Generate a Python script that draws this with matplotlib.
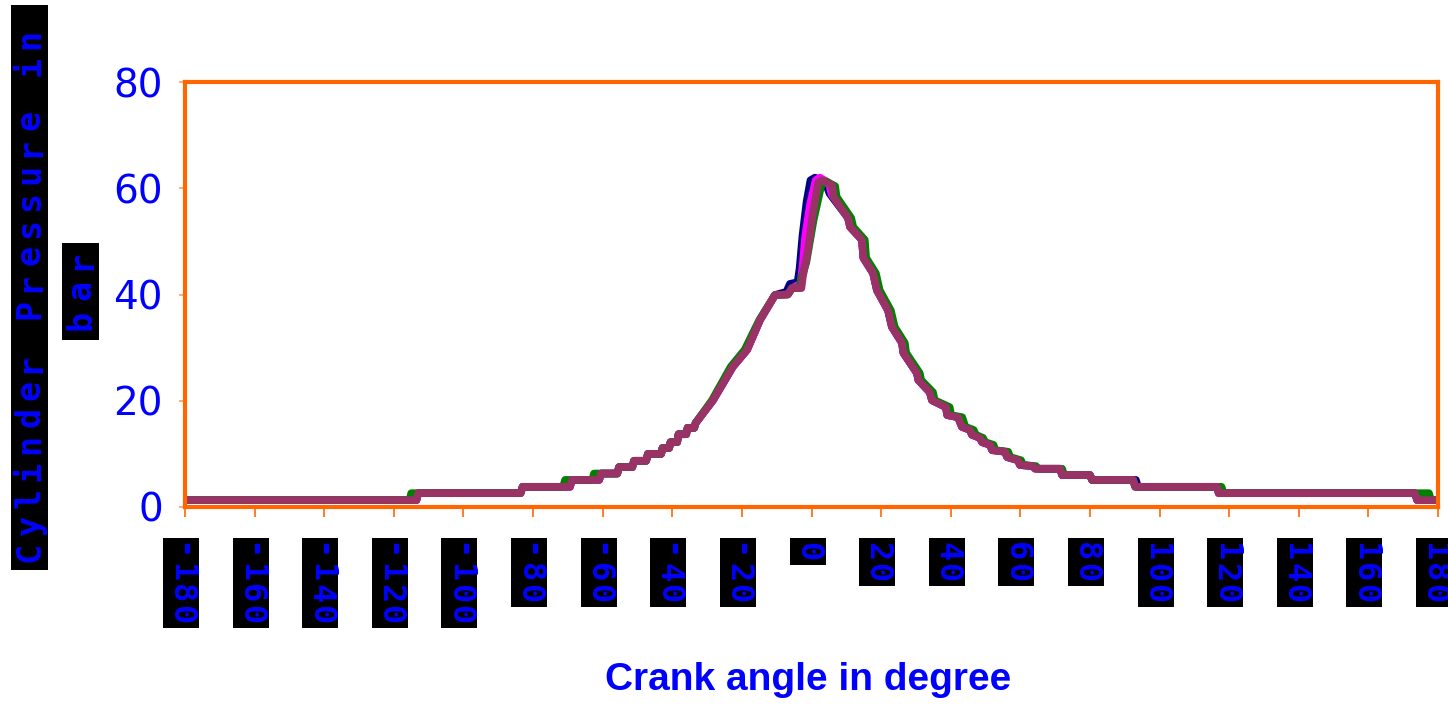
import matplotlib
matplotlib.use("Agg")
import matplotlib.pyplot as plt
from matplotlib.patches import Rectangle

# crank angle (deg) / cylinder pressure (bar)
maroon_deg = [-180, -113.5, -113.0, -83.6, -83.0, -69.4, -68.8, -61.0, -60.5, -55.8,
              -55.3, -51.5, -51.0, -47.5, -47.0, -43.2, -42.8, -40.9, -40.5, -38.6,
              -38.2, -36.0, -35.6, -33.7, -33.3, -28.3, -22.6, -18.5, -14.8, -10.5,
              -6.8, -5.6, -2.9, -2.5, -1.0, 0.4, 1.9, 3.0, 5.9, 6.3,
              10.5, 11.1, 14.5, 14.9, 17.7, 18.8, 22.0, 23.1, 26.0, 26.4,
              30.3, 30.7, 34.0, 34.6, 38.6, 39.0, 42.1, 43.2, 45.5, 46.1,
              48.4, 49.0, 51.3, 51.9, 55.6, 56.2, 59.3, 59.9, 63.6, 64.2,
              71.4, 72.0, 80.0, 80.6, 92.4, 93.0, 116.5, 117.0, 173.4, 174.0, 180]
maroon_bar = [1.3, 1.3, 2.6, 2.6, 3.8, 3.8, 5.1, 5.1, 6.3, 6.3,
              7.5, 7.5, 8.7, 8.7, 10.0, 10.0, 11.1, 11.1, 12.2, 12.2,
              13.7, 13.7, 14.9, 14.9, 15.8, 20.1, 26.4, 29.6, 35.2, 39.9,
              40.0, 41.2, 41.2, 43.3, 48.4, 55.3, 61.0, 61.5, 60.6, 58.4,
              54.4, 52.7, 50.3, 46.9, 44.0, 40.8, 37.0, 33.9, 30.9, 29.0,
              25.2, 23.9, 21.6, 20.1, 18.8, 17.3, 16.9, 15.1, 14.5, 13.6,
              13.0, 12.2, 11.7, 10.7, 10.4, 9.4, 8.8, 7.9, 7.7, 7.2,
              7.2, 6.0, 6.0, 5.1, 5.1, 3.8, 3.8, 2.6, 2.6, 1.3, 1.3]

green_deg = [-180, -115.5, -115.0, -83.6, -83.0, -71.4, -70.8, -63.0, -62.5, -55.8,
             -55.3, -51.5, -51.0, -47.5, -47.0, -43.2, -42.8, -40.9, -40.5, -38.6,
             -38.2, -36.0, -35.6, -33.7, -33.3, -28.6, -23.2, -19.2, -15.0, -10.5,
             -6.8, -5.6, -3.5, -2.8, -1.5, 0.6, 2.8, 4.2, 6.8, 7.2,
             11.4, 12.0, 15.3, 15.7, 18.5, 19.6, 22.8, 23.9, 26.8, 27.2,
             31.1, 31.5, 34.9, 35.4, 39.7, 40.1, 43.3, 44.2, 46.6, 47.2,
             49.3, 49.9, 52.3, 52.8, 56.5, 57.1, 60.2, 60.8, 64.5, 65.1,
             72.0, 72.6, 80.0, 80.6, 92.4, 93.0, 117.8, 118.4, 177.4, 178.0, 180]
green_bar = [1.3, 1.3, 2.6, 2.6, 3.8, 3.8, 5.1, 5.1, 6.3, 6.3,
             7.5, 7.5, 8.7, 8.7, 10.0, 10.0, 11.1, 11.1, 12.2, 12.2,
             13.7, 13.7, 14.9, 14.9, 15.8, 20.1, 26.4, 29.6, 35.2, 39.9,
             40.0, 41.2, 41.2, 43.3, 46.0, 54.0, 60.5, 61.3, 60.4, 58.4,
             54.4, 52.7, 50.3, 46.9, 44.0, 40.8, 37.0, 33.9, 30.9, 29.0,
             25.2, 23.9, 21.6, 20.1, 18.8, 17.3, 16.9, 15.1, 14.5, 13.6,
             13.0, 12.2, 11.7, 10.7, 10.4, 9.4, 8.8, 7.9, 7.7, 7.2,
             7.2, 6.0, 6.0, 5.1, 5.1, 3.8, 3.8, 2.6, 2.6, 1.3, 1.3]

navy_deg = [-180, -113.5, -113.0, -83.6, -83.0, -69.4, -68.8, -61.0, -60.5, -55.8,
            -55.3, -51.5, -51.0, -47.5, -47.0, -43.2, -42.8, -40.9, -40.5, -38.6,
            -38.2, -36.0, -35.6, -33.7, -33.3, -28.3, -22.6, -18.5, -14.8, -10.5,
            -7.2, -6.2, -4.0, -3.4, -2.6, -1.4, -0.3, 1.0, 4.0, 5.2,
            10.5, 11.1, 14.5, 14.9, 17.7, 18.8, 22.0, 23.1, 26.0, 26.4,
            30.3, 30.7, 34.0, 34.6, 38.6, 39.0, 42.1, 43.2, 45.5, 46.1,
            48.4, 49.0, 51.3, 51.9, 55.6, 56.2, 59.3, 59.9, 63.6, 64.8,
            71.4, 72.0, 80.0, 80.6, 93.2, 93.8, 116.5, 117.0, 173.4, 174.0, 180]
navy_bar = [1.3, 1.3, 2.6, 2.6, 3.8, 3.8, 5.1, 5.1, 6.3, 6.3,
            7.5, 7.5, 8.7, 8.7, 10.0, 10.0, 11.1, 11.1, 12.2, 12.2,
            13.7, 13.7, 14.9, 14.9, 15.8, 20.1, 26.4, 29.6, 35.2, 39.9,
            40.5, 42.0, 42.3, 45.0, 51.0, 57.5, 61.5, 62.0, 61.0, 59.0,
            54.4, 52.7, 50.3, 46.9, 44.0, 40.8, 37.0, 33.9, 30.9, 29.0,
            25.2, 23.9, 21.6, 20.1, 18.8, 17.3, 16.9, 15.1, 14.5, 13.6,
            13.0, 12.2, 11.7, 10.7, 10.4, 9.4, 8.8, 7.9, 7.7, 7.2,
            7.2, 6.0, 6.0, 5.1, 5.1, 3.8, 3.8, 2.6, 2.6, 1.3, 1.3]

magenta_deg = [-180, -113.5, -113.0, -83.6, -83.0, -69.4, -68.8, -61.0, -60.5, -55.8,
               -55.3, -51.5, -51.0, -47.5, -47.0, -43.2, -42.8, -40.9, -40.5, -38.6,
               -38.2, -36.0, -35.6, -33.7, -33.3, -28.3, -22.6, -18.5, -14.8, -10.5,
               -6.8, -5.6, -3.2, -2.6, -1.8, -0.4, 1.2, 2.4, 5.0, 5.8,
               10.5, 11.1, 14.5, 14.9, 17.7, 18.8, 22.0, 23.1, 26.0, 26.4,
               30.3, 30.7, 34.0, 34.6, 38.6, 39.0, 42.1, 43.2, 45.5, 46.1,
               48.4, 49.0, 51.3, 51.9, 55.6, 56.2, 59.3, 59.9, 63.6, 64.2,
               71.4, 72.0, 80.0, 80.6, 92.4, 93.0, 116.5, 117.0, 173.4, 174.0, 180]
magenta_bar = [1.3, 1.3, 2.6, 2.6, 3.8, 3.8, 5.1, 5.1, 6.3, 6.3,
               7.5, 7.5, 8.7, 8.7, 10.0, 10.0, 11.1, 11.1, 12.2, 12.2,
               13.7, 13.7, 14.9, 14.9, 15.8, 20.1, 26.4, 29.6, 35.2, 39.9,
               40.0, 41.2, 42.0, 45.0, 51.0, 57.0, 61.5, 62.0, 61.0, 58.8,
               54.4, 52.7, 50.3, 46.9, 44.0, 40.8, 37.0, 33.9, 30.9, 29.0,
               25.2, 23.9, 21.6, 20.1, 18.8, 17.3, 16.9, 15.1, 14.5, 13.6,
               13.0, 12.2, 11.7, 10.7, 10.4, 9.4, 8.8, 7.9, 7.7, 7.2,
               7.2, 6.0, 6.0, 5.1, 5.1, 3.8, 3.8, 2.6, 2.6, 1.3, 1.3]

x_ticks = [-180, -160, -140, -120, -100, -80, -60, -40, -20, 0,
           20, 40, 60, 80, 100, 120, 140, 160, 180]
x_tick_labels = [str(t) for t in x_ticks]
y_ticks = [0, 20, 40, 60, 80]

BLUE = "#0000FF"
ORANGE = "#FF6600"
MONO = ["DejaVu Sans Mono"]
W, H = 1448, 705

fig = plt.figure(figsize=(W / 100, H / 100), dpi=100)
ax = fig.add_axes([185 / W, 1 - 507 / H, 1253 / W, 425 / H])

series = [(navy_deg, navy_bar, "#000080"),
          (magenta_deg, magenta_bar, "#FF00FF"),
          (green_deg, green_bar, "#008000"),
          (maroon_deg, maroon_bar, "#993366")]
for xs, ys, c in series:
    ax.plot(xs, ys, color=c, lw=5.5, solid_joinstyle="round", solid_capstyle="butt")

ax.set_xlim(-180, 180)
ax.set_ylim(0, 80)
for sp in ax.spines.values():
    sp.set_color(ORANGE)
    sp.set_linewidth(3)

ax.set_yticks(y_ticks)
ax.tick_params(axis="y", direction="out", length=4, width=1.5, color="#FFB070",
               labelcolor=BLUE, labelsize=28, pad=12)

# x tick labels: black boxes with the characters stacked top to bottom
ax.set_xticks(x_ticks)
ax.set_xticklabels([])
ax.tick_params(axis="x", direction="out", length=7, width=1.2, color=ORANGE)
for t, lab in zip(x_ticks, x_tick_labels):
    box_h = 6 + 21 * len(lab)
    xpix = ax.transData.transform((t, 0))[0] - 4
    fig.patches.append(Rectangle(((xpix - 18) / W, 1 - (538 + box_h) / H), 36 / W, box_h / H,
                                 transform=fig.transFigure, facecolor="black", edgecolor="none"))
    for i, ch in enumerate(lab):
        fig.text(xpix / W, 1 - (551.5 + 21 * i) / H, ch, rotation=-90,
                 ha="center", va="center", color=BLUE, fontsize=23, family=MONO,
                 fontweight="bold")

# y label, drawn glyph by glyph in black boxes like the original
fig.patches.append(Rectangle((11 / W, 1 - 570 / H), 37 / W, 565 / H,
                             transform=fig.transFigure, facecolor="black", edgecolor="none"))
for i, ch in enumerate("Cylinder Pressure in"):
    fig.text(30 / W, 1 - (552 - i * 27) / H, ch, rotation=90, ha="center", va="center",
             color=BLUE, fontsize=24, family=MONO, fontweight="bold")

fig.patches.append(Rectangle((62 / W, 1 - 340 / H), 37 / W, 97 / H,
                             transform=fig.transFigure, facecolor="black", edgecolor="none"))
for i, ch in enumerate("bar"):
    fig.text(81 / W, 1 - (320 - i * 30) / H, ch, rotation=90, ha="center", va="center",
             color=BLUE, fontsize=24, family=MONO, fontweight="bold")

fig.text(808 / W, 1 - 680 / H, "Crank angle in degree", ha="center", va="center",
         color=BLUE, fontsize=28, fontweight="bold", family=["Liberation Sans", "DejaVu Sans"])

fig.savefig("out.png", dpi=100)
